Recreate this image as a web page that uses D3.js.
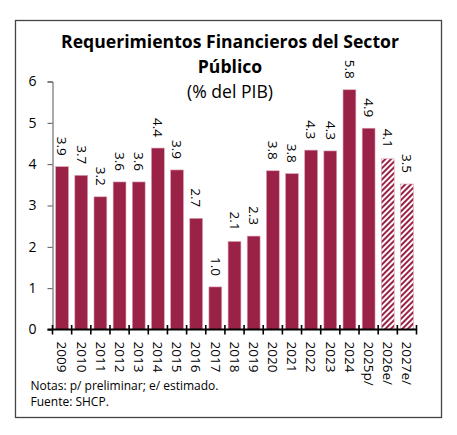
<!DOCTYPE html>
<html>
<head>
<meta charset="utf-8">
<script src="https://cdn.jsdelivr.net/npm/d3@7"></script>
<style>
  body { margin: 0; background: #fff; }
  text { font-family: "Open Sans", "Noto Sans", sans-serif; fill: #000; }
</style>
</head>
<body>
<script>
// RFSP por año, % del PIB
var years = ["2009", "2010", "2011", "2012", "2013", "2014", "2015", "2016", "2017", "2018",
             "2019", "2020", "2021", "2022", "2023", "2024", "2025p/", "2026e/", "2027e/"];
var values = [3.94, 3.73, 3.21, 3.57, 3.57, 4.39, 3.86, 2.69, 1.03, 2.13,
              2.26, 3.84, 3.77, 4.34, 4.32, 5.80, 4.87, 4.13, 3.52];
var valueLabels = ["3.9", "3.7", "3.2", "3.6", "3.6", "4.4", "3.9", "2.7", "1.0", "2.1",
                   "2.3", "3.8", "3.8", "4.3", "4.3", "5.8", "4.9", "4.1", "3.5"];
var estimated = ["2026e/", "2027e/"]; // hatched bars
var yTicks = [0, 1, 2, 3, 4, 5, 6];

var width = 457;
var height = 435;
var maroon = "#9b2247";

var svg = d3.select("body")
            .append("svg")
            .attr("width", width)
            .attr("height", height);

// hatch pattern for estimates
var pat = svg.append("defs").append("pattern")
            .attr("id", "hatch")
            .attr("patternUnits", "userSpaceOnUse")
            .attr("width", 4)
            .attr("height", 4)
            .attr("patternTransform", "rotate(45)");
pat.append("rect").attr("width", 4).attr("height", 4).attr("fill", "#fff");
pat.append("rect").attr("width", 2).attr("height", 4).attr("fill", maroon);

// frame
svg.append("rect")
   .attr("x", 15.5).attr("y", 20.5)
   .attr("width", 426).attr("height", 397)
   .attr("fill", "none")
   .attr("stroke", "#444")
   .attr("stroke-width", 1.3);

// title
svg.append("text").attr("x", 230).attr("y", 48).attr("text-anchor", "middle")
   .style("font-size", "17.6px").style("font-weight", "bold")
   .text("Requerimientos Financieros del Sector");
svg.append("text").attr("x", 230).attr("y", 73).attr("text-anchor", "middle")
   .style("font-size", "17.6px").style("font-weight", "bold")
   .text("Público");
svg.append("text").attr("x", 230).attr("y", 98).attr("text-anchor", "middle")
   .style("font-size", "17.6px")
   .text("(% del PIB)");

var x = d3.scaleBand()
          .domain(years)
          .range([52.5, 416.5])
          .paddingInner(0.33)
          .paddingOuter(0.165);

var y = d3.scaleLinear()
          .domain([0, 6])
          .range([329.5, 81.5]);

// y axis
var yAxis = d3.axisLeft(y)
              .tickValues(yTicks)
              .tickSize(5)
              .tickPadding(11)
              .tickFormat(d3.format("d"));

var gy = svg.append("g")
            .attr("transform", "translate(52.5,0)")
            .call(yAxis);
gy.select(".domain").attr("stroke", "#555");
gy.selectAll(".tick line").attr("stroke", "#555");
gy.selectAll(".tick text").style("font-size", "14px");

// bars
var data = years.map(function(d, i) { return {year: d, value: values[i], label: valueLabels[i]}; });

svg.selectAll("rect.bar")
   .data(data)
   .enter()
   .append("rect")
   .attr("class", "bar")
   .attr("x", function(d) { return x(d.year); })
   .attr("width", x.bandwidth())
   .attr("y", function(d) { return y(d.value); })
   .attr("height", function(d) { return y(0) - y(d.value); })
   .attr("fill", function(d) { return estimated.indexOf(d.year) >= 0 ? "url(#hatch)" : maroon; })
   .attr("stroke", "#d9a3b3")
   .attr("stroke-width", 0.6);

// value labels, rotated
svg.selectAll("text.val")
   .data(data)
   .enter()
   .append("text")
   .attr("class", "val")
   .attr("transform", function(d) {
     return "translate(" + (x(d.year) + x.bandwidth() / 2) + "," + (y(d.value) - 11) + ") rotate(90)";
   })
   .attr("text-anchor", "end")
   .attr("dy", "0.35em")
   .style("font-size", "13.5px")
   .text(function(d) { return d.label; });

// x axis
var xAxis = d3.axisBottom(x).tickSize(0).tickPadding(0);
var gx = svg.append("g")
            .attr("transform", "translate(0,329.5)")
            .call(xAxis);
gx.select(".domain").remove();
gx.append("line")
  .attr("x1", 47.5).attr("x2", 417)
  .attr("stroke", "#000").attr("stroke-width", 2);
var bounds = years.map(function(d) { return x(d) - x.step() * x.paddingInner() / 2; });
bounds.push(416.5);
gx.selectAll("line.sep")
  .data(bounds)
  .enter()
  .append("line")
  .attr("class", "sep")
  .attr("x1", function(d) { return d; })
  .attr("x2", function(d) { return d; })
  .attr("y1", -4.5).attr("y2", 5)
  .attr("stroke", "#000").attr("stroke-width", 1.6);
gx.selectAll(".tick text")
  .attr("transform", "translate(0,12) rotate(90)")
  .attr("text-anchor", "start")
  .attr("dy", "0.35em")
  .attr("y", 0)
  .style("font-size", "13.5px");

// notes
svg.append("text").attr("x", 30.5).attr("y", 390)
   .style("font-size", "12px")
   .text("Notas: p/ preliminar; e/ estimado.");
svg.append("text").attr("x", 30.5).attr("y", 406)
   .style("font-size", "12px")
   .text("Fuente: SHCP.");
</script>
</body>
</html>
